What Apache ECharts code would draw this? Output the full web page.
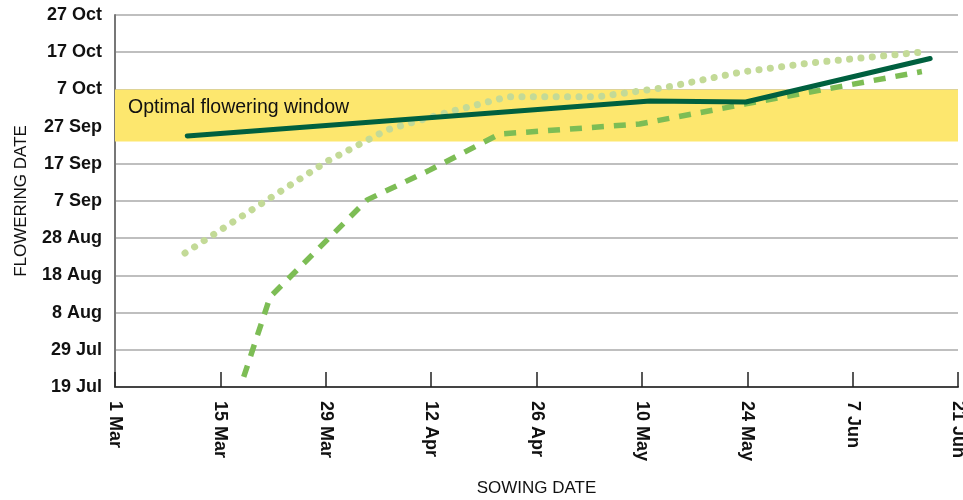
<!DOCTYPE html>
<html>
<head>
<meta charset="utf-8">
<script src="https://cdn.jsdelivr.net/npm/echarts@6/dist/echarts.min.js"></script>
<style>html,body{margin:0;padding:0;background:#fff}#c{width:963px;height:500px}</style>
</head>
<body>
<div id="c"></div>
<script>
// X: days after 1 Mar ; Y: days after 19 Jul
var xTickLabels = ['1 Mar','15 Mar','29 Mar','12 Apr','26 Apr','10 May','24 May','7 Jun','21 Jun'];
var yTickLabels = ['19 Jul','29 Jul','8 Aug','18 Aug','28 Aug','7 Sep','17 Sep','27 Sep','7 Oct','17 Oct','27 Oct'];

var solidX = [9.6, 71.1, 83.8, 108.3];
var solidY = [67.5, 76.9, 76.6, 88.3];

var dashedX = [17.1, 20.6, 33.5, 41.8, 51.1, 69.7, 83.8, 107.2];
var dashedY = [2.7, 24.2, 50.3, 58.3, 68.0, 70.7, 76.1, 84.8];

var dottedX = [9.3, 15.7, 28.3, 36.1, 43.4, 52.1, 64.0, 72.8, 83.3, 92.3, 107.6];
var dottedY = [36.0, 44.4, 60.8, 69.1, 73.4, 78.0, 78.0, 80.4, 84.7, 87.1, 90.1];

var bandRange = [66, 80];
var bandLabel = 'Optimal flowering window';

function zip(a, b) { return a.map(function (v, i) { return [v, b[i]]; }); }

var font = '"Liberation Sans", Arial, sans-serif';
var chart = echarts.init(document.getElementById('c'));
chart.setOption({
  animation: false,
  grid: { left: 115, right: 5, top: 15, bottom: 113, containLabel: false, outerBoundsMode: 'none' },
  xAxis: {
    type: 'value', min: 0, max: 112, interval: 14,
    name: 'SOWING DATE', nameLocation: 'middle', nameGap: 93,
    nameTextStyle: { color: '#111', fontSize: 17, fontFamily: font },
    axisLine: { show: true, lineStyle: { color: '#444', width: 2 } },
    axisTick: { show: true, inside: true, length: 15, lineStyle: { color: '#222', width: 1.5 } },
    splitLine: { show: false },
    axisLabel: {
      rotate: -90, margin: 14, color: '#111', fontSize: 18, fontWeight: 'bold', fontFamily: font,
      formatter: function (v) { return xTickLabels[Math.round(v / 14)] || ''; }
    }
  },
  yAxis: {
    type: 'value', min: 0, max: 100, interval: 10,
    name: 'FLOWERING DATE', nameLocation: 'middle', nameGap: 85,
    nameTextStyle: { color: '#111', fontSize: 17, fontFamily: font },
    axisLine: { show: true, lineStyle: { color: '#777', width: 2 } },
    axisTick: { show: false },
    splitLine: { show: true, lineStyle: { color: '#aaa', width: 1.5 } },
    axisLabel: {
      margin: 13, color: '#111', fontSize: 18, fontWeight: 'bold', fontFamily: font,
      formatter: function (v) { return yTickLabels[Math.round(v / 10)] || ''; }
    }
  },
  series: [
    {
      type: 'line', z: -1, data: [], silent: true,
      markArea: {
        silent: true,
        itemStyle: { color: '#fde76e' },
        label: {
          show: true, position: 'insideLeft', distance: 13, offset: [0, -8],
          color: '#111', fontSize: 19.5, fontFamily: font
        },
        data: [[{ yAxis: bandRange[0], name: bandLabel }, { yAxis: bandRange[1] }]]
      }
    },
    {
      type: 'line', data: zip(dottedX, dottedY), symbol: 'none', smooth: false,
      lineStyle: { color: '#c3da97', width: 7, type: [0.1, 11.3], cap: 'round' }
    },
    {
      type: 'line', data: zip(dashedX, dashedY), symbol: 'none', smooth: false,
      lineStyle: { color: '#7dbd55', width: 5.5, type: [12, 10] }
    },
    {
      type: 'line', data: zip(solidX, solidY), symbol: 'none', smooth: false,
      lineStyle: { color: '#00603f', width: 5, cap: 'round', join: 'round' }
    }
  ]
});
</script>
</body>
</html>
